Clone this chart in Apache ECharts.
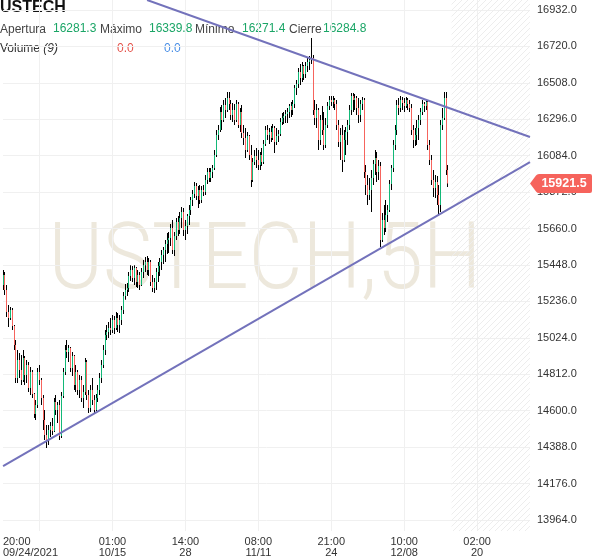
<!DOCTYPE html>
<html><head><meta charset="utf-8">
<script src="https://cdn.jsdelivr.net/npm/echarts@6/dist/echarts.min.js"></script>
<style>html,body{margin:0;padding:0;background:#fff}#c{width:600px;height:558px}</style>
</head><body><div id="c"></div>
<script>
// ---- data ----
// candles: [open, close, low, high]
const candles = [
[15332,15390,15302,15419],[15390,15302,15273,15407],[15302,15174,15145,15332],[15174,15140,15087,15215],
[15140,15186,15128,15204],[15186,15093,15070,15198],[15093,14982,14953,15099],[14982,14790,14761,15012],
[14790,14895,14761,14953],[14895,14837,14790,14936],[14837,14779,14750,14924],[14779,14907,14767,14953],
[14907,14808,14750,14918],[14808,14866,14761,14895],[14866,14732,14709,14883],[14732,14825,14692,14854],
[14825,14697,14674,14837],[14697,14581,14558,14703],[14581,14633,14546,14662],[14633,14825,14616,14849],
[14825,14779,14750,14866],[14779,14674,14633,14790],[14674,14546,14488,14692],[14546,14459,14430,14604],
[14459,14430,14383,14517],[14430,14488,14400,14517],[14488,14511,14447,14534],[14511,14482,14459,14558],
[14482,14651,14476,14674],[14651,14604,14575,14692],[14604,14633,14529,14651],[14633,14453,14430,14662],
[14453,14686,14441,14709],[14686,14825,14674,14849],[14825,14953,14808,14982],[14953,14942,14907,15012],
[14942,14965,14883,14982],[14965,14849,14825,14971],[14849,14918,14802,14942],[14918,14750,14721,14924],
[14750,14825,14709,14866],[14825,14721,14692,14837],[14721,14779,14674,14808],[14779,14674,14651,14802],
[14674,14709,14616,14750],[14709,14883,14692,14907],[14883,14692,14662,14895],[14692,14616,14587,14721],
[14616,14721,14593,14750],[14721,14662,14633,14790],[14662,14604,14587,14692],[14604,14674,14598,14697],
[14674,14721,14651,14750],[14721,14790,14692,14820],[14790,14866,14761,14895],[14866,14953,14849,14982],
[14953,15041,14924,15070],[15041,15058,15012,15099],[15058,15081,15023,15116],[15081,15070,15041,15140],
[15070,15128,15052,15157],[15128,15081,15046,15151],[15081,15140,15070,15174],[15140,15099,15058,15169],
[15099,15128,15052,15157],[15128,15186,15099,15209],[15186,15268,15163,15291],[15268,15302,15245,15337],
[15302,15314,15268,15343],[15314,15384,15291,15407],[15384,15419,15355,15447],[15419,15372,15349,15442],
[15372,15430,15332,15447],[15430,15349,15320,15436],[15349,15390,15314,15419],[15390,15332,15302,15407],
[15332,15407,15326,15430],[15407,15447,15372,15477],[15447,15465,15407,15494],[15465,15419,15390,15500],
[15419,15465,15384,15489],[15465,15349,15326,15477],[15349,15314,15291,15390],[15314,15349,15285,15372],
[15349,15407,15302,15430],[15407,15442,15349,15465],[15442,15465,15384,15489],[15465,15506,15419,15535],
[15506,15535,15454,15553],[15535,15570,15465,15593],[15570,15593,15512,15634],[15593,15605,15518,15640],
[15605,15663,15559,15687],[15663,15535,15512,15710],[15535,15617,15500,15640],[15617,15698,15593,15721],
[15698,15652,15617,15733],[15652,15721,15628,15756],[15721,15756,15663,15785],[15756,15652,15617,15780],
[15652,15675,15593,15710],[15675,15733,15628,15745],[15733,15768,15681,15797],[15768,15826,15739,15844],
[15826,15861,15791,15884],[15861,15908,15838,15931],[15908,15850,15826,15925],[15850,15884,15780,15908],
[15884,15826,15803,15913],[15826,15884,15809,15908],[15884,15873,15850,15913],[15873,15943,15855,15972],
[15943,15989,15919,16012],[15989,15954,15931,16012],[15954,15989,15931,16012],[15989,16012,15954,16030],
[16012,16088,16001,16117],[16088,16204,16076,16234],[16204,16234,16175,16263],[16234,16338,16222,16367],
[16338,16292,16234,16379],[16292,16379,16280,16408],[16379,16350,16303,16420],[16350,16420,16338,16455],
[16420,16385,16350,16455],[16385,16321,16292,16408],[16321,16350,16280,16391],[16350,16292,16263,16385],
[16292,16385,16280,16408],[16385,16263,16245,16396],[16263,16338,16222,16362],[16338,16216,16187,16379],
[16216,16187,16146,16263],[16187,16117,16071,16245],[16117,16199,16105,16222],[16199,16088,16059,16204],
[16088,15943,15902,16146],[15943,16047,15931,16071],[16047,16082,16030,16117],[16082,16059,16012,16129],
[16059,16030,16001,16117],[16030,16088,16001,16105],[16088,16047,16024,16129],[16047,16152,16036,16175],
[16152,16234,16140,16257],[16234,16204,16175,16263],[16204,16222,16152,16245],[16222,16187,16164,16257],
[16187,16245,16175,16268],[16245,16164,16100,16257],[16164,16199,16146,16245],[16199,16210,16164,16234],
[16210,16280,16199,16303],[16280,16303,16263,16332],[16303,16315,16268,16338],[16315,16327,16274,16350],
[16327,16338,16274,16362],[16338,16373,16303,16385],[16373,16350,16309,16396],[16350,16385,16321,16408],
[16385,16478,16362,16495],[16478,16501,16437,16524],[16501,16571,16478,16594],[16571,16536,16495,16618],
[16536,16606,16513,16629],[16606,16559,16524,16612],[16559,16606,16536,16629],[16606,16629,16571,16652],
[16629,16641,16583,16664],[16641,16652,16618,16769],[16652,16350,16321,16670],[16350,16303,16263,16408],
[16303,16350,16245,16385],[16350,16175,16117,16362],[16175,16292,16146,16321],[16292,16234,16204,16373],
[16234,16146,16117,16338],[16146,16263,16129,16303],[16263,16373,16245,16396],[16373,16408,16350,16431],
[16408,16396,16373,16431],[16396,16408,16362,16431],[16408,16385,16350,16420],[16385,16263,16234,16408],
[16263,16164,16135,16292],[16164,16204,16059,16245],[16204,16059,15989,16263],[16059,16175,16047,16234],
[16175,16222,16088,16251],[16222,16263,16146,16292],[16263,16350,16234,16379],[16350,16431,16321,16449],
[16431,16408,16338,16449],[16408,16420,16350,16443],[16420,16362,16321,16431],[16362,16321,16274,16420],
[16321,16385,16280,16408],[16385,16408,16350,16426],[16408,15989,15954,16420],[15989,15913,15855,16030],
[15913,15855,15797,15972],[15855,15884,15826,15954],[15884,15954,15756,16001],[15954,16036,15913,16059],
[16036,16071,15972,16117],[16071,15989,15931,16105],[15989,16024,15943,16059],[16024,15593,15553,16047],
[15593,15710,15582,15751],[15710,15663,15623,15797],[15663,15739,15640,15826],[15739,15768,15698,15797],
[15768,15919,15756,15943],[15919,16012,15884,16030],[16012,16146,15989,16175],[16146,16234,16117,16263],
[16234,16379,16204,16408],[16379,16362,16321,16420],[16362,16408,16338,16431],[16408,16391,16350,16426],
[16391,16373,16338,16420],[16373,16408,16362,16426],[16408,16385,16350,16420],[16385,16362,16338,16408],
[16362,16234,16204,16385],[16234,16175,16129,16263],[16175,16204,16140,16245],[16204,16245,16146,16292],
[16245,16292,16175,16321],[16292,16338,16263,16362],[16338,16385,16321,16408],[16385,16373,16338,16396],
[16373,16396,16350,16414],[16396,16146,16117,16408],[16146,16059,16030,16175],[16059,15943,15913,16088],
[15943,15896,15844,16001],[15896,15931,15838,15972],[15931,15855,15797,15966],[15855,15797,15745,15913],
[15797,16263,15756,16292],[16263,16303,16234,16362],[16303,16420,16292,16455],[16420,16001,15972,16455],
[16001,15921.5,15902,16030]
];
const slotCount = 290;                       // candle slots incl. future area
const tickIndex = [20, 60, 100, 140, 180, 220, 260];
const tickTime = ['20:00', '01:00', '14:00', '08:00', '21:00', '10:00', '02:00'];
const tickDate = ['09/24/2021', '10/15', '28', '11/11', '24', '12/08', '20'];
const yTicks = [13964,14176,14388,14600,14812,15024,15236,15448,15660,15872,16084,16296,16508,16720,16932];
const upperTrend = [[79, 16990], [289, 16193]];
const lowerTrend = [[0, 14278], [289, 16047]];
const lastPrice = 15921.5;
const futureStart = 246;
const headerLabels = ['Apertura', 'Máximo', 'Mínimo', 'Cierre'];
const headerValues = ['16281.3', '16339.8', '16271.4', '16284.8'];
const volumeValues = ['0.0', '0.0'];

// ---- chart ----
const categories = [];
for (let i = 0; i < slotCount; i++) categories.push('s' + i);
const seriesData = candles.map((d, i) => [i, d[0], d[1], d[2], d[3]]);

const UP = '#12b877', DOWN = '#f6645d';
const pc = document.createElement('canvas');
pc.width = 6; pc.height = 6;
const pctx = pc.getContext('2d');
pctx.strokeStyle = '#ededed'; pctx.lineWidth = 1;
pctx.beginPath();
pctx.moveTo(0, 6); pctx.lineTo(6, 0);
pctx.moveTo(-1, 1); pctx.lineTo(1, -1);
pctx.moveTo(5, 7); pctx.lineTo(7, 5);
pctx.stroke();

const chart = echarts.init(document.getElementById('c'), null, {renderer: 'canvas'});
const FONT = 'Liberation Sans, Arial, sans-serif';
const lab = (t, x, y, color, extra) => Object.assign({
  type: 'text', x: x, y: y, silent: true,
  style: {text: t, fill: color, font: '12px ' + FONT, textVerticalAlign: 'middle'}
}, extra || {});

const hx = [0, 100, 195, 289];
const vx = [53, 149, 242, 323];
const graphics = [
  {type: 'text', x: 265, y: 265, z: -1, scaleX: 0.9, silent: true,
   style: {text: 'USTECH,5H', fill: '#ede8dc', font: '300 92px Roboto', textAlign: 'center', textVerticalAlign: 'middle'}},
  {type: 'text', x: 0, y: 8, silent: true,
   style: {text: 'USTECH', fill: '#111', font: 'bold 16px ' + FONT, textVerticalAlign: 'middle'}}
];
headerLabels.forEach((t, k) => graphics.push(lab(t, hx[k], 30, '#444')));
headerValues.forEach((t, k) => graphics.push(lab(t, vx[k], 29, '#1aa566')));
graphics.push({type: 'text', x: 0, y: 49, silent: true,
  style: {text: '{n|Volume }{i|(9)}', textVerticalAlign: 'middle',
    rich: {n: {fill: '#333', font: '12px ' + FONT}, i: {fill: '#333', font: 'italic 12px ' + FONT}}}});
graphics.push(lab(volumeValues[0], 117, 49, '#e5534b'));
graphics.push(lab(volumeValues[1], 164, 49, '#4a8fe6'));

chart.setOption({
  animation: false,
  backgroundColor: '#fff',
  grid: {left: 0, right: 70, top: 0, bottom: 27, containLabel: false},
  xAxis: {
    type: 'category', data: categories, boundaryGap: false,
    axisLine: {show: false}, axisTick: {show: false},
    splitLine: {show: true, interval: (i) => tickIndex.indexOf(i) >= 0, lineStyle: {color: '#f0f0f0', width: 1}},
    axisLabel: {
      interval: (i) => tickIndex.indexOf(i) >= 0,
      margin: 5, fontSize: 11, lineHeight: 11, color: '#333', fontFamily: FONT,
      formatter: (v, i) => {
        const k = tickIndex.indexOf(i);
        if (k < 0) return '';
        if (k === 0) return '{a|' + tickTime[k] + '}\n{b|' + tickDate[k] + '}';
        return tickTime[k] + '\n' + tickDate[k];
      },
      rich: {
        a: {align: 'left', fontSize: 11, lineHeight: 11, color: '#333', fontFamily: FONT},
        b: {align: 'left', fontSize: 11, lineHeight: 11, color: '#333', fontFamily: FONT, padding: [0, 18, 0, 0]}
      }
    }
  },
  yAxis: {
    type: 'value', position: 'right', min: 13900, max: 16990, scale: true,
    axisLine: {show: false},
    axisTick: {show: false, customValues: yTicks},
    splitLine: {show: true, lineStyle: {color: '#f0f0f0', width: 1}},
    axisLabel: {customValues: yTicks, margin: 7, fontSize: 11, color: '#333', fontFamily: FONT,
      formatter: (v) => Number(v).toFixed(1)}
  },
  graphic: graphics,
  series: [
    {
      type: 'line', name: 'future', data: [], z: 1, silent: true,
      markArea: {silent: true, itemStyle: {color: {image: pc, repeat: 'repeat'}},
        data: [[{xAxis: futureStart}, {xAxis: slotCount - 1}]]}
    },
    {
      type: 'custom', name: 'USTECH', z: 3, clip: true,
      encode: {x: 0, y: [1, 2, 3, 4]},
      data: seriesData,
      renderItem: (params, api) => {
        const i = api.value(0), o = api.value(1), c = api.value(2), l = api.value(3), h = api.value(4);
        const pO = api.coord([i, o]), pC = api.coord([i, c]);
        const pL = api.coord([i, l]), pH = api.coord([i, h]);
        const x = Math.round(pO[0] - 0.5);
        const top = Math.min(pO[1], pC[1]);
        const bh = Math.max(1, Math.abs(pO[1] - pC[1]));
        return {type: 'group', children: [
          {type: 'rect', shape: {x: x, y: pH[1], width: 1, height: Math.max(1, pL[1] - pH[1])}, style: {fill: '#000'}},
          {type: 'rect', shape: {x: x, y: top, width: 1, height: bh}, style: {fill: c >= o ? UP : DOWN}}
        ]};
      }
    },
    {
      type: 'line', name: 'upper', data: upperTrend, z: 4, silent: true, symbol: 'none',
      lineStyle: {color: '#7372bb', width: 2}
    },
    {
      type: 'line', name: 'lower', data: lowerTrend, z: 4, silent: true, symbol: 'none',
      lineStyle: {color: '#7372bb', width: 2},
      markPoint: {
        silent: true,
        symbol: 'path://M0,9.5L6,1.5Q7,0,9,0L60,0Q62,0,62,2L62,17Q62,19,60,19L9,19Q7,19,6,17.5Z',
        symbolSize: [62, 19], symbolOffset: [31, 0], symbolKeepAspect: false,
        itemStyle: {color: '#f6635c'},
        label: {show: true, position: 'inside', offset: [3, 0], color: '#fff', fontWeight: 'bold',
          fontSize: 12.5, fontFamily: FONT, formatter: String(lastPrice)},
        data: [{coord: [slotCount - 1, lastPrice]}]
      }
    }
  ]
});
</script></body></html>
